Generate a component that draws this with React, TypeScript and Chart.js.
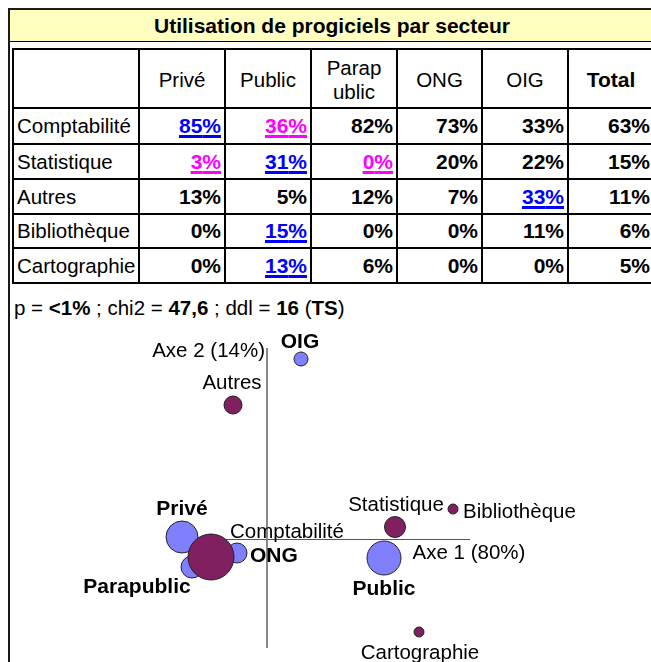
import React, { useEffect, useRef } from "react";
import { Chart, registerables } from "chart.js";

Chart.register(...registerables);

// ---------- Table data ----------
const TITRE = "Utilisation de progiciels par secteur";
const enTetes = ["Privé", "Public", "Parap\nublic", "ONG", "OIG", "Total"];
const lignes = ["Comptabilité", "Statistique", "Autres", "Bibliothèque", "Cartographie"];

const pctComptabilite = [85, 36, 82, 73, 33, 63];
const pctStatistique = [3, 31, 0, 20, 22, 15];
const pctAutres = [13, 5, 12, 7, 33, 11];
const pctBibliotheque = [0, 15, 0, 0, 11, 6];
const pctCartographie = [0, 13, 6, 0, 0, 5];

// 1 = sur-représenté (bleu), -1 = sous-représenté (rose), 0 = non significatif
const sigComptabilite = [1, -1, 0, 0, 0, 0];
const sigStatistique = [-1, 1, -1, 0, 0, 0];
const sigAutres = [0, 0, 0, 0, 1, 0];
const sigBibliotheque = [0, 1, 0, 0, 0, 0];
const sigCartographie = [0, 1, 0, 0, 0, 0];

const pctLignes = [pctComptabilite, pctStatistique, pctAutres, pctBibliotheque, pctCartographie];
const sigLignes = [sigComptabilite, sigStatistique, sigAutres, sigBibliotheque, sigCartographie];

// ---------- Factor map data ----------
const secteurs = ["Privé", "Public", "Parapublic", "ONG", "OIG"];
const secteursAxe1 = [-0.425, 0.585, -0.375, -0.15, 0.17];
const secteursAxe2 = [0.01, -0.095, -0.14, -0.07, 0.9];
const secteursTaille = [16, 17, 11, 10, 7];

const progiciels = ["Comptabilité", "Statistique", "Autres", "Bibliothèque", "Cartographie"];
const progicielsAxe1 = [-0.28, 0.64, -0.17, 0.93, 0.76];
const progicielsAxe2 = [-0.09, 0.06, 0.67, 0.15, -0.465];
const progicielsTaille = [23, 10.5, 9, 5, 5];

const AXE1_TITRE = "Axe 1 (80%)";
const AXE2_TITRE = "Axe 2 (14%)";
const AXE1_ETENDUE = [-0.3, 1.015];
const AXE2_ETENDUE = [-0.545, 0.955];

// ---------- Styles ----------
const FONT = "'Liberation Sans', Arial, Helvetica, sans-serif";
const X_MIN = -1.285;
const X_MAX = 1.92;
const Y_MIN = -0.615;
const Y_MAX = 1.07;

const labelStyle: Record<string, { dx: number; dy: number; align: CanvasTextAlign; bold: boolean }> = {
  "Privé": { dx: 0, dy: -28, align: "center", bold: true },
  "Public": { dx: 0, dy: 31, align: "center", bold: true },
  "Parapublic": { dx: -55, dy: 20, align: "center", bold: true },
  "ONG": { dx: 13, dy: 3, align: "left", bold: true },
  "OIG": { dx: -1, dy: -17, align: "center", bold: true },
  "Comptabilité": { dx: 76, dy: -25, align: "center", bold: false },
  "Statistique": { dx: 1, dy: -22, align: "center", bold: false },
  "Autres": { dx: -1, dy: -22, align: "center", bold: false },
  "Bibliothèque": { dx: 10, dy: 3, align: "left", bold: false },
  "Cartographie": { dx: 1, dy: 21, align: "center", bold: false },
};

const axesPlugin = {
  id: "axesCroises",
  beforeDatasetsDraw(chart: any) {
    const { ctx, scales } = chart;
    const x = scales.x;
    const y = scales.y;
    const x0 = Math.round(x.getPixelForValue(0));
    const y0 = Math.round(y.getPixelForValue(0)) + 0.5;
    ctx.save();
    ctx.strokeStyle = "#555555";
    ctx.lineWidth = 1;
    ctx.beginPath();
    ctx.moveTo(x.getPixelForValue(AXE1_ETENDUE[0]), y0);
    ctx.lineTo(x.getPixelForValue(AXE1_ETENDUE[1]), y0);
    ctx.stroke();
    ctx.strokeStyle = "#888888";
    ctx.lineWidth = 2;
    ctx.beginPath();
    ctx.moveTo(x0, y.getPixelForValue(AXE2_ETENDUE[1]));
    ctx.lineTo(x0, y.getPixelForValue(AXE2_ETENDUE[0]));
    ctx.stroke();
    ctx.fillStyle = "#000";
    ctx.font = `20.5px ${FONT}`;
    ctx.textBaseline = "middle";
    ctx.textAlign = "right";
    ctx.fillText(AXE2_TITRE, x0 - 2, y.getPixelForValue(AXE2_ETENDUE[1]) + 3);
    ctx.textAlign = "center";
    ctx.fillText(AXE1_TITRE, x.getPixelForValue(AXE1_ETENDUE[1]) - 1, y0 + 14);
    ctx.restore();
  },
};

const labelsPlugin = {
  id: "etiquettes",
  afterDatasetsDraw(chart: any) {
    const { ctx } = chart;
    ctx.save();
    ctx.fillStyle = "#000";
    ctx.textBaseline = "middle";
    chart.data.datasets.forEach((ds: any, di: number) => {
      const meta = chart.getDatasetMeta(di);
      meta.data.forEach((el: any, i: number) => {
        const name = ds.names[i];
        const st = labelStyle[name];
        ctx.font = `${st.bold ? "bold 21px" : "20.5px"} ${FONT}`;
        ctx.textAlign = st.align;
        ctx.fillText(name, el.x + st.dx, el.y + st.dy);
      });
    });
    ctx.restore();
  },
};

const colWidths = [124, 84, 84, 84, 83, 84, 84];
const rowHeights = [57, 34, 33, 33, 32, 33];

function ValueCell({ v, sig }: { v: number; sig: number }) {
  const color = sig === 1 ? "#0000ff" : sig === -1 ? "#ff00ff" : "#000";
  return (
    <div
      style={{
        background: "#fff",
        display: "flex",
        alignItems: "center",
        justifyContent: "flex-end",
        paddingRight: 3,
        fontWeight: "bold",
        fontSize: 21,
      }}
    >
      <span
        style={{
          color,
          textDecoration: sig !== 0 ? "underline" : "none",
          textDecorationThickness: "2.5px",
          textUnderlineOffset: "2px",
        }}
      >
        {v}%
      </span>
    </div>
  );
}

export default function App() {
  const canvasRef = useRef<HTMLCanvasElement>(null);

  useEffect(() => {
    const canvas = canvasRef.current;
    if (!canvas) return;
    const chart = new Chart(canvas, {
      type: "bubble",
      data: {
        datasets: [
          {
            label: "Progiciels",
            names: progiciels,
            data: progiciels.map((_, i) => ({ x: progicielsAxe1[i], y: progicielsAxe2[i], r: progicielsTaille[i] })),
            backgroundColor: "#802060",
            borderColor: "#222222",
            borderWidth: 1,
            order: 0,
          } as any,
          {
            label: "Secteurs",
            names: secteurs,
            data: secteurs.map((_, i) => ({ x: secteursAxe1[i], y: secteursAxe2[i], r: secteursTaille[i] })),
            backgroundColor: "#8080ff",
            borderColor: "#222222",
            borderWidth: 1,
            order: 1,
          } as any,
        ],
      },
      options: {
        animation: false,
        responsive: false,
        maintainAspectRatio: false,
        events: [],
        layout: { padding: 0, autoPadding: false },
        plugins: { legend: { display: false }, tooltip: { enabled: false } },
        scales: {
          x: { type: "linear", display: false, min: X_MIN, max: X_MAX },
          y: { type: "linear", display: false, min: Y_MIN, max: Y_MAX },
        },
      },
      plugins: [axesPlugin, labelsPlugin],
    });
    return () => chart.destroy();
  }, []);

  return (
    <div
      style={{
        position: "fixed",
        left: 8,
        top: 8,
        width: 643,
        height: 654,
        overflow: "hidden",
        fontFamily: FONT,
        color: "#000",
        background: "#fff",
      }}
    >
      {/* frame */}
      <div
        style={{
          position: "absolute",
          left: 0,
          top: 0,
          width: 644,
          height: 700,
          borderTop: "2px solid #1a1a1a",
          borderLeft: "2px solid #1a1a1a",
          borderRight: "2px solid #1a1a1a",
        }}
      />
      {/* title */}
      <div
        style={{
          position: "absolute",
          left: 2,
          top: 2,
          width: 644,
          height: 31,
          background: "#ffffc0",
          borderBottom: "1px solid #000",
          display: "flex",
          alignItems: "center",
          justifyContent: "center",
          fontWeight: "bold",
          fontSize: 21,
        }}
      >
        {TITRE}
      </div>
      {/* table */}
      <div
        style={{
          position: "absolute",
          left: 4,
          top: 40,
          display: "grid",
          gridTemplateColumns: colWidths.map((w) => w + "px").join(" "),
          gridTemplateRows: rowHeights.map((h) => h + "px").join(" "),
          gap: 2,
          padding: 2,
          background: "#000",
          fontSize: 20.5,
        }}
      >
        <div style={{ background: "#fff" }} />
        {enTetes.map((h, i) => (
          <div
            key={"h" + i}
            style={{
              background: "#fff",
              display: "flex",
              alignItems: "center",
              justifyContent: "center",
              textAlign: "center",
              whiteSpace: "pre-line",
              lineHeight: "24px",
              paddingTop: 3,
              fontWeight: h === "Total" ? "bold" : "normal",
              fontSize: h === "Total" ? 21 : 20.5,
            }}
          >
            {h}
          </div>
        ))}
        {lignes.map((l, r) => (
          <React.Fragment key={"r" + r}>
            <div
              style={{
                background: "#fff",
                display: "flex",
                alignItems: "center",
                paddingLeft: 3,
                whiteSpace: "nowrap",
              }}
            >
              {l}
            </div>
            {pctLignes[r].map((v, c) => (
              <ValueCell key={"c" + r + "-" + c} v={v} sig={sigLignes[r][c]} />
            ))}
          </React.Fragment>
        ))}
      </div>
      {/* stats line */}
      <div
        style={{
          position: "absolute",
          left: 6,
          top: 288,
          fontSize: 20.5,
          lineHeight: "23px",
          whiteSpace: "nowrap",
        }}
      >
        p = <b>&lt;1%</b> ; chi2 = <b>47,6</b> ; ddl = <b>16</b> (<b>TS</b>)
      </div>
      {/* factor map */}
      <canvas
        ref={canvasRef}
        width={641}
        height={337}
        style={{ position: "absolute", left: 2, top: 317, width: 641, height: 337, display: "block" }}
      />
    </div>
  );
}
